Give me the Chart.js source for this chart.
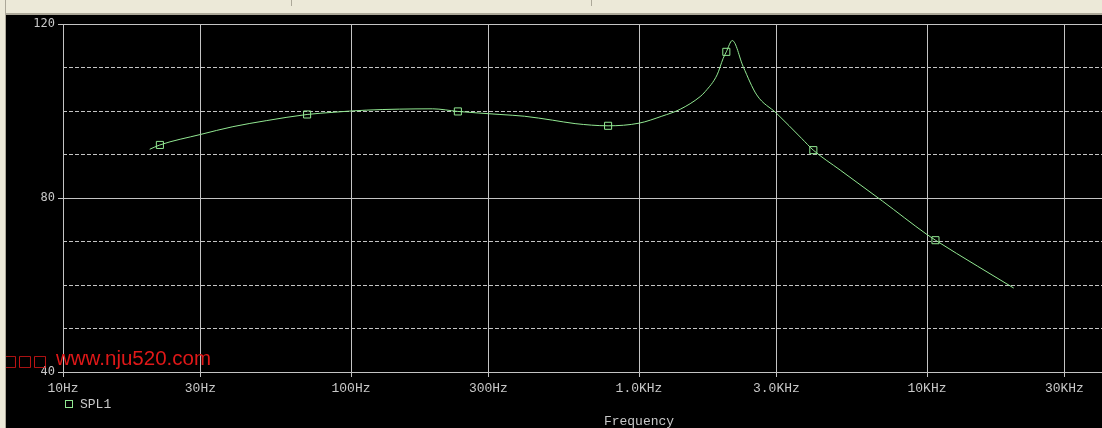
<!DOCTYPE html>
<html>
<head>
<meta charset="utf-8">
<script src="https://cdn.jsdelivr.net/npm/chart.js@4/dist/chart.umd.min.js"></script>
<style>
	html, body { margin: 0; padding: 0; background: #000; overflow: hidden; width: 1102px; height: 428px; }
	#wrap { position: relative; width: 1230px; height: 428px; }
	#topbar { position: absolute; left: 0; top: 0; width: 1102px; height: 13px; background: #ece9d8; border-bottom: 2px solid #aca899; }
	#topbar i { position: absolute; top: 0; width: 1px; height: 6px; background: #aca899; }
	#leftbar { position: absolute; left: 0; top: 0; width: 5px; height: 428px; background: #ece9d8; border-right: 1px solid #aca899; }
</style>
</head>
<body>
<div id="wrap">
	<canvas id="spl" width="1230" height="428"></canvas>
	<div id="topbar"><i style="left:291px"></i><i style="left:591px"></i></div>
	<div id="leftbar"></div>
</div>
<script>
// SPL1 trace (Hz, dB)
const freqs = [20, 21.7, 30, 38.9, 51, 70.4, 86.6, 113, 192, 235, 329, 400, 500, 600, 781, 1000, 1200, 1390, 1630, 1700, 1867, 1960, 2010, 2108, 2300, 2563, 3000, 3670, 4030, 5000, 7000, 10000, 10700, 15000, 20000];
const spl = [91.2, 92.2, 94.6, 96.4, 97.8, 99.2, 99.7, 100.2, 100.5, 99.9, 99.2, 98.8, 97.9, 97.1, 96.6, 97.2, 98.8, 100.4, 103.3, 104.5, 108.3, 112.1, 113.6, 116.2, 110.2, 103.7, 99.5, 93.7, 91.0, 86.4, 79.3, 71.6, 70.3, 64.3, 59.3];

// marker symbols on the trace
const markFreqs = [21.7, 70.4, 235, 781, 2010, 4030, 10700];
const markSpl = [92.2, 99.2, 99.9, 96.6, 113.6, 91.0, 70.3];

const xTicks = [10, 30, 100, 300, 1000, 3000, 10000, 30000];
const xTickLabels = ["10Hz", "30Hz", "100Hz", "300Hz", "1.0KHz", "3.0KHz", "10KHz", "30KHz"];
const yLabeled = [40, 80, 120];

const traceColor = "#92e892";
const gridColor = "#c4c4c4";
const textColor = "#c8c8c8";

const extras = {
	id: "extras",
	afterDraw(chart) {
		const ctx = chart.ctx;
		ctx.save();
		// legend
		ctx.strokeStyle = traceColor;
		ctx.lineWidth = 1;
		ctx.strokeRect(65.5, 400.5, 7, 7);
		ctx.fillStyle = textColor;
		ctx.font = "13px 'Liberation Mono'";
		ctx.textBaseline = "middle";
		ctx.fillText("SPL1", 80, 405);
		// watermark
		ctx.fillStyle = "#e01818";
		ctx.textBaseline = "alphabetic";
		ctx.font = "15px 'DejaVu Sans'";
		["□", "□", "□"].forEach((ch, i) => ctx.fillText(ch, 3 + i * 15, 366));
		ctx.font = "20.5px 'Liberation Sans'";
		ctx.fillText("www.nju520.com", 56, 365);
		ctx.restore();
	}
};

new Chart(document.getElementById("spl"), {
	type: "line",
	data: {
		datasets: [
			{
				label: "SPL1",
				data: freqs.map((f, i) => ({ x: f, y: spl[i] })),
				borderColor: traceColor,
				borderWidth: 1,
				pointRadius: 0,
				cubicInterpolationMode: "monotone",
				fill: false
			},
			{
				label: "marks",
				data: markFreqs.map((f, i) => ({ x: f, y: markSpl[i] })),
				showLine: false,
				pointStyle: "rect",
				pointRadius: 5,
				borderColor: traceColor,
				backgroundColor: "rgba(0,0,0,0)",
				borderWidth: 1
			}
		]
	},
	options: {
		responsive: false,
		animation: false,
		layout: { padding: { left: 0, top: 24, right: 15, bottom: 0 } },
		plugins: { legend: { display: false }, tooltip: { enabled: false } },
		scales: {
			x: {
				type: "logarithmic",
				min: 10,
				max: 100000,
				afterBuildTicks: (scale) => { scale.ticks = xTicks.map(v => ({ value: v })); },
				afterFit: (scale) => { scale.height = 56; },
				ticks: {
					autoSkip: false,
					maxRotation: 0,
					padding: 4,
					color: textColor,
					font: { family: "'Liberation Mono'", size: 13 },
					callback: (value, index) => xTickLabels[index]
				},
				grid: { color: gridColor, tickColor: gridColor, tickLength: 5, lineWidth: 1 },
				border: { color: gridColor },
				title: {
					display: true,
					text: "Frequency",
					color: textColor,
					font: { family: "'Liberation Mono'", size: 13, lineHeight: 1 },
					padding: { top: 0, bottom: 0 }
				}
			},
			y: {
				position: "left",
				min: 40,
				max: 120,
				afterFit: (scale) => { scale.width = 63; },
				ticks: {
					stepSize: 10,
					padding: 3,
					color: textColor,
					font: { family: "'DejaVu Sans Mono'", size: 12 },
					callback: (value) => yLabeled.includes(value) ? value : ""
				},
				grid: {
					color: (c) => yLabeled.includes(c.tick.value) ? gridColor : "rgba(0,0,0,0)",
					tickColor: (c) => yLabeled.includes(c.tick.value) ? gridColor : "rgba(0,0,0,0)",
					tickLength: 5
				},
				border: { color: gridColor }
			},
			yDash: {
				position: "left",
				min: 40,
				max: 120,
				afterFit: (scale) => { scale.width = 0; },
				ticks: { display: false, stepSize: 10 },
				grid: {
					drawTicks: false,
					color: (c) => yLabeled.includes(c.tick.value) ? "rgba(0,0,0,0)" : gridColor
				},
				border: { display: false, dash: [4, 2] }
			}
		}
	},
	plugins: [extras]
});
</script>
</body>
</html>
